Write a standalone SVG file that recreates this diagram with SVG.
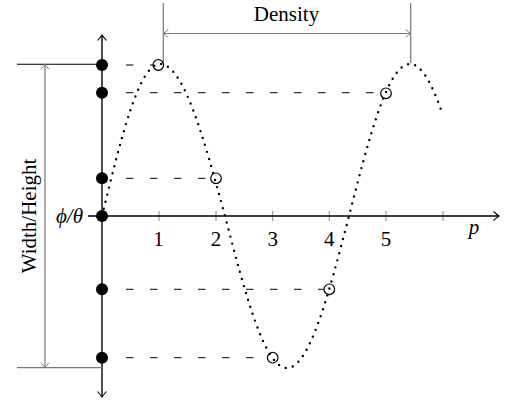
<svg xmlns="http://www.w3.org/2000/svg" width="507" height="403" viewBox="0 0 507 403">
<style>
.txt{font-family:"Liberation Serif","Times New Roman",serif;font-size:21px;fill:#000}
.it{font-style:italic}
.axis{stroke:#000;stroke-width:1.4;fill:none}
.tick{stroke:#888;stroke-width:1;fill:none}
.dim{stroke:#777;stroke-width:1.2;fill:none}
.dash{stroke:#000;stroke-width:1;stroke-dasharray:7.5 16.5;fill:none}
.curve{stroke:#000;stroke-width:2.4;stroke-dasharray:0 7.3;stroke-linecap:round;fill:none}
.pt{fill:#000}
.circ{fill:none;stroke:#000;stroke-width:1.2}
</style>
<defs>
<marker id="ah" viewBox="-7 -6 9 12" markerWidth="9" markerHeight="12" refX="0" refY="0" orient="auto" markerUnits="userSpaceOnUse">
<path d="M-5.5,-4.5 Q-1.5,-1 0,0 Q-1.5,1 -5.5,4.5" fill="none" stroke="#000" stroke-width="1.1"/>
</marker>
<marker id="ahg" viewBox="-7 -6 9 12" markerWidth="9" markerHeight="12" refX="0" refY="0" orient="auto" markerUnits="userSpaceOnUse">
<path d="M-5,-4 Q-1.5,-1 0,0 Q-1.5,1 -5,4" fill="none" stroke="#777" stroke-width="1"/>
</marker>
</defs>
<g id="connectors">
<path class="dash" d="M126,65 H153"/>
<path class="dash" d="M126,92.7 H381"/>
<path class="dash" d="M126,178.3 H211"/>
<path class="dash" d="M126,289.3 H324"/>
<path class="dash" d="M126,357.7 H267.5"/>
<path class="curve" d="M102,216 C121.4,136.2 139.1,64 160,64 C183.4,64 203.3,136.2 225,216 C245.7,295.8 264.7,368 287,368 C309.3,368 328.3,295.8 349,216 C369.4,136.2 388,64 410,64 C421,64 431.15,82.05 441.1,110.1"/>
</g>
<g id="axes">
<path class="tick" d="M159,211 V221 M216,211 V221 M272.7,211 V221 M329.3,211 V221 M386,211 V221 M443,211 V221"/>
<line class="axis" x1="88" y1="216" x2="499" y2="216" marker-end="url(#ah)"/>
<line class="axis" x1="102" y1="216" x2="102" y2="35" marker-end="url(#ah)"/>
<line class="axis" x1="102" y1="216" x2="102" y2="397" marker-end="url(#ah)"/>
<text class="txt" x="158.5" y="246" text-anchor="middle">1</text>
<text class="txt" x="216" y="246" text-anchor="middle">2</text>
<text class="txt" x="272.7" y="246" text-anchor="middle">3</text>
<text class="txt" x="329.3" y="246" text-anchor="middle">4</text>
<text class="txt" x="386" y="246" text-anchor="middle">5</text>
<text class="txt it" x="474" y="234" text-anchor="middle">p</text>
<text class="txt it" x="83" y="223" text-anchor="end">ϕ/θ</text>
</g>
<g id="width-height">
<line x1="17" y1="64.3" x2="102" y2="64.3" stroke="#000" stroke-width="1.1"/>
<line class="dim" x1="17" y1="367.7" x2="102" y2="367.7"/>
<line class="dim" x1="45" y1="216" x2="45" y2="64.3" marker-end="url(#ahg)"/>
<line class="dim" x1="45" y1="216" x2="45" y2="367.7" marker-end="url(#ahg)"/>
<text class="txt" transform="translate(36,216) rotate(-90)" text-anchor="middle">Width/Height</text>
</g>
<g id="density">
<line class="dim" x1="163.3" y1="3" x2="163.3" y2="63.5"/>
<line class="dim" x1="410.7" y1="3" x2="410.7" y2="63.5"/>
<line class="dim" x1="287" y1="33.5" x2="163.3" y2="33.5" marker-end="url(#ahg)"/>
<line class="dim" x1="287" y1="33.5" x2="410.7" y2="33.5" marker-end="url(#ahg)"/>
<text class="txt" x="286.5" y="21" text-anchor="middle">Density</text>
</g>
<g id="axis-points">
<circle class="pt" cx="102" cy="65" r="6"/>
<circle class="pt" cx="102" cy="92.7" r="6"/>
<circle class="pt" cx="102" cy="178.3" r="6"/>
<circle class="pt" cx="102" cy="216" r="6"/>
<circle class="pt" cx="102" cy="289.3" r="6"/>
<circle class="pt" cx="102" cy="357.7" r="6"/>
</g>
<g id="samples">
<circle class="circ" cx="158.3" cy="65" r="5.3"/>
<circle class="circ" cx="216" cy="178.3" r="5.3"/>
<circle class="circ" cx="272.7" cy="357.7" r="5.3"/>
<circle class="circ" cx="329.3" cy="289.3" r="5.3"/>
<circle class="circ" cx="386" cy="93.3" r="5.3"/>
</g>
</svg>
